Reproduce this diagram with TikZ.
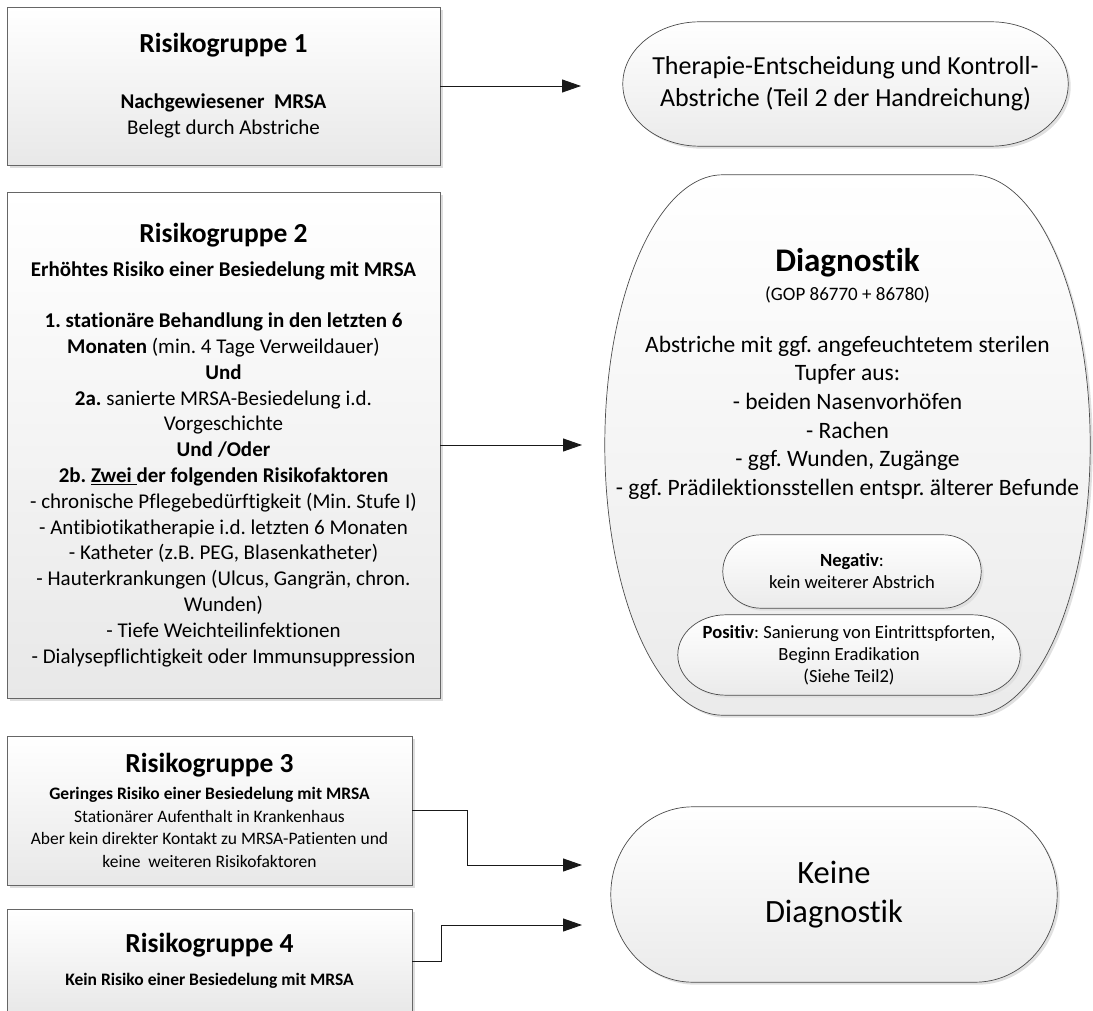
\documentclass[tikz,border=0pt]{standalone}
\usepackage{fontspec}
\setmainfont{Carlito}[Ligatures={NoCommon}]
\usetikzlibrary{arrows.meta,shadows}
\frenchspacing

\pgfdeclarelayer{bg}
\pgfsetlayers{bg,main}

\newcommand{\rgtitle}[1]{{\fontsize{27.5}{33}\selectfont\bfseries #1}}

% outline with elliptic corners behind a node: name, x radius, y radius
\newcommand{\pillframe}[3]{%
  \begin{pgfonlayer}{bg}
  \path[pill line] ([yshift=-#3]#1.north west)
    arc[start angle=180,end angle=90,x radius=#2,y radius=#3]
    -- ([xshift=-#2]#1.north east)
    arc[start angle=90,end angle=0,x radius=#2,y radius=#3]
    -- ([yshift=#3]#1.south east)
    arc[start angle=0,end angle=-90,x radius=#2,y radius=#3]
    -- ([xshift=#2]#1.south west)
    arc[start angle=270,end angle=180,x radius=#2,y radius=#3]
    -- cycle;
  \end{pgfonlayer}}

\tikzset{
  riskbox/.style={draw=black!60, line width=0.8pt, top color=white, bottom color=black!9,
    drop shadow={shadow xshift=3pt,shadow yshift=-3pt,fill=black!13,opacity=1},
    align=center, inner sep=0pt},
  pill/.style={align=center, inner sep=0pt},
  pill line/.style={draw=black!70, line width=0.7pt, top color=white, bottom color=black!8,
    drop shadow={shadow xshift=2.5pt,shadow yshift=-2.5pt,fill=black!12,opacity=1}},
  conn/.style={draw=black!90, line width=0.9pt, -{Triangle[length=19pt,width=13pt]}}
}

\begin{document}
\begin{tikzpicture}[x=1pt,y=-1pt]
	\clip (0,0) rectangle (1093,1011);

	% risk groups
	\node[riskbox, minimum width=433pt, minimum height=158pt, font=\fontsize{21}{25.8}\selectfont] (rg1) at (223.5,86) {%
		\rgtitle{Risikogruppe 1}\\[30.2pt]
		\textbf{Nachgewiesener\ \ MRSA}\\
		Belegt durch Abstriche};
	\node[riskbox, minimum width=433pt, minimum height=506pt, font=\fontsize{21}{25.8}\selectfont] (rg2) at (223.5,445) {%
		\rgtitle{Risikogruppe 2}\\[8.2pt]
		\textbf{Erhöhtes Risiko einer Besiedelung mit MRSA}\\[25.2pt]
		\textbf{1. stationäre Behandlung in den letzten 6}\\
		\textbf{Monaten} (min. 4 Tage Verweildauer)\\
		\textbf{Und}\\
		\textbf{2a.} sanierte MRSA-Besiedelung i.d.\\
		Vorgeschichte\\
		\textbf{Und /Oder}\\
		\textbf{2b. \underline{Zwei }der folgenden Risikofaktoren}\\
		- chronische Pflegebedürftigkeit (Min. Stufe I)\\
		- Antibiotikatherapie i.d. letzten 6 Monaten\\
		- Katheter (z.B. PEG, Blasenkatheter)\\
		- Hauterkrankungen (Ulcus, Gangrän, chron.\\
		Wunden)\\
		- Tiefe Weichteilinfektionen\\
		- Dialysepflichtigkeit oder Immunsuppression};
	\node[riskbox, minimum width=405pt, minimum height=149pt, font=\fontsize{17.5}{22.7}\selectfont] (rg3) at (209.5,810.5) {%
		\rgtitle{Risikogruppe 3}\\[4.3pt]
		\textbf{Geringes Risiko einer Besiedelung mit MRSA}\\
		Stationärer Aufenthalt in Krankenhaus\\
		Aber kein direkter Kontakt zu MRSA-Patienten und\\
		keine\ \ weiteren Risikofaktoren};
	\node[riskbox, minimum width=405pt, minimum height=104pt, font=\fontsize{17.5}{22.7}\selectfont] (rg4) at (209.5,961) {%
		\rgtitle{Risikogruppe 4}\\[10.3pt]
		\textbf{Kein Risiko einer Besiedelung mit MRSA}};

	% outcomes
	\node[pill, minimum width=445pt, minimum height=124pt, font=\fontsize{26}{31.7}\selectfont] (therapy) at (845.5,84) {%
		Therapie-Entscheidung und Kontroll-\\
		Abstriche (Teil 2 der Handreichung)};
	\pillframe{therapy}{77pt}{62pt}
	\node[pill, minimum width=485pt, minimum height=540pt] (diag) at (847.5,445) {};
	\pillframe{diag}{118pt}{270pt}
	\node[pill, anchor=north, font=\fontsize{23.5}{28.7}\selectfont] (diagtext) at (847.5,248) {%
		{\fontsize{33}{40}\selectfont\bfseries Diagnostik}\\
		{\fontsize{19}{23}\selectfont (GOP 86770 + 86780)}\\[23.3pt]
		Abstriche mit ggf. angefeuchtetem sterilen\\
		Tupfer aus:\\
		- beiden Nasenvorhöfen\\
		- Rachen\\
		- ggf. Wunden, Zugänge\\
		- ggf. Prädilektionsstellen entspr. älterer Befunde};
	\node[pill, minimum width=258pt, minimum height=73pt, font=\fontsize{18.6}{22}\selectfont] (negative) at (852,571.5) {%
		\textbf{Negativ}:\\
		kein weiterer Abstrich};
	\pillframe{negative}{38pt}{36.5pt}
	\node[pill, minimum width=342pt, minimum height=80pt, font=\fontsize{18.6}{22}\selectfont] (positive) at (849,655) {%
		\textbf{Positiv}: Sanierung von Eintrittspforten,\\
		Beginn Eradikation\\
		(Siehe Teil2)};
	\pillframe{positive}{48pt}{40pt}
	\node[pill, minimum width=446pt, minimum height=175pt, font=\fontsize{32.5}{39}\selectfont] (nodiag) at (834,894.5) {%
		Keine\\
		Diagnostik};
	\pillframe{nodiag}{82pt}{87.5pt}

	% arrows
	\coordinate (tip1) at (581,86);
	\coordinate (tip2) at (582,445);
	\coordinate (tip3) at (582,865);
	\coordinate (tip4) at (582,925);
	\draw[conn] (rg1.east) -- (tip1);
	\draw[conn] (rg2.east) -- (tip2);
	\draw[conn] (rg3.east) -- ++(55,0) |- (tip3);
	\draw[conn] (rg4.east) -- ++(29,0) |- (tip4);
\end{tikzpicture}
\end{document}
